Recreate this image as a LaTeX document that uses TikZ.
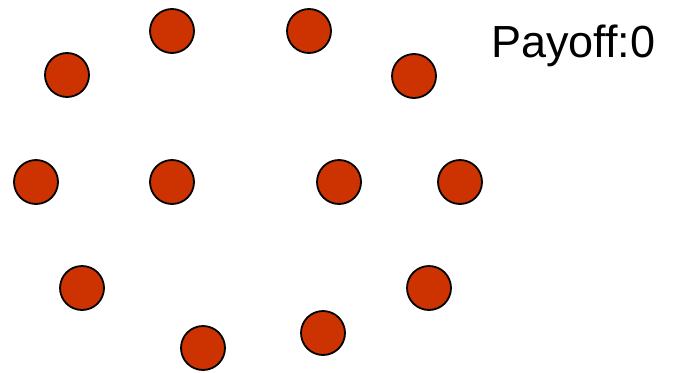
\documentclass[tikz,border=0pt]{standalone}
\usepackage{fontspec}
\setmainfont{Liberation Sans}
\usepackage{tikz}

\definecolor{playerred}{HTML}{CC3300}

\begin{document}
\begin{tikzpicture}[
    x=1pt, y=-1pt,
    player/.style={
        draw,
        circle,
        fill=playerred,
        line width=1.8pt,
        inner sep=0pt,
        minimum size=44pt
    },
    score/.style={
        anchor=base west,
        inner sep=0pt,
        font=\fontsize{45}{52}\selectfont
    }
]
\useasboundingbox (0,0) rectangle (679,372);

\node[player] (p1) at (172,31) {};
\node[player] (p2) at (309,31) {};
\node[player] (p3) at (67,75) {};
\node[player] (p4) at (414,76) {};
\node[player] (p5) at (36,182) {};
\node[player] (p6) at (172,182) {};
\node[player] (p7) at (339,182) {};
\node[player] (p8) at (460,182) {};
\node[player] (p9) at (82,288) {};
\node[player] (p10) at (429,288) {};
\node[player] (p11) at (203,348) {};
\node[player] (p12) at (323,333) {};

\node[score] (payoff) at (491,57) {Payoff:0};

\end{tikzpicture}
\end{document}
